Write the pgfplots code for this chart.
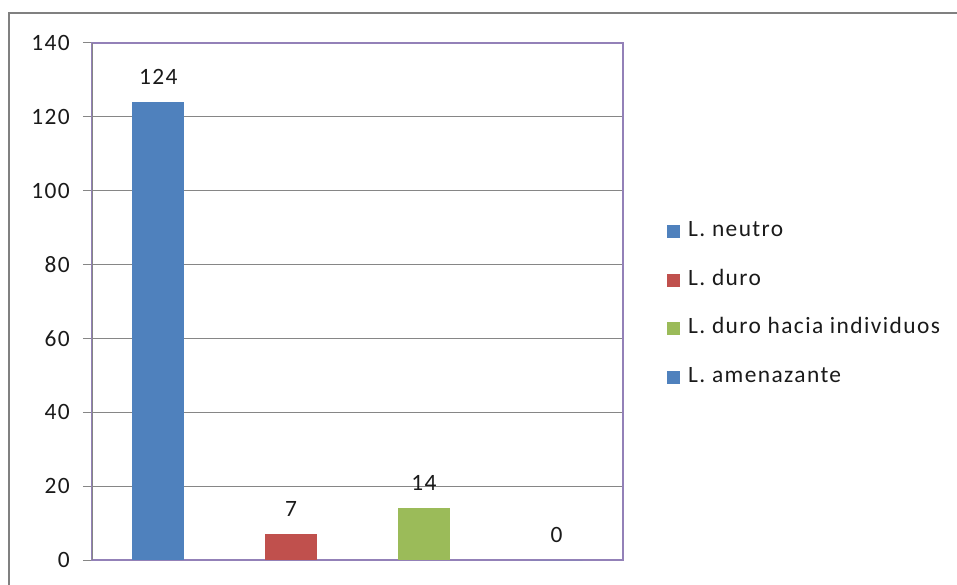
\documentclass[border=0pt]{standalone}
\usepackage{fontspec}
\setmainfont{Carlito}[LetterSpace=6]
\usepackage{pgfplots}
\pgfplotsset{compat=1.18}

\definecolor{xlblue}{HTML}{4F81BD}
\definecolor{xlred}{HTML}{C0504D}
\definecolor{xlgreen}{HTML}{9BBB59}
\definecolor{gridgray}{HTML}{868686}
\definecolor{framegray}{HTML}{808080}
\definecolor{plotpurple}{HTML}{9381B8}
\definecolor{labelblack}{HTML}{1A1A1A}

\begin{document}
\fontsize{23.5}{28}\selectfont
\begin{tikzpicture}
\useasboundingbox (0,0) rectangle (957bp,585bp);
% chart area frame (top and left edges)
\draw[framegray, line width=2bp] (9bp,0) -- (9bp,572bp) -- (957bp,572bp);
\begin{axis}[
  at={(92bp,25bp)}, anchor=south west,
  x=132.75bp, height=517bp, scale only axis,
  enlargelimits=false,
  xmin=-0.5, xmax=3.5, ymin=0, ymax=140,
  ytick={0,20,...,140}, xtick=\empty, ytick pos=left,
  ymajorgrids, grid style={gridgray, line width=1bp},
  axis line style={plotpurple, line width=1.2bp},
  ytick style={gridgray, line width=1bp},
  tick align=outside, major tick length=9bp,
  /pgf/number format/assume math mode=true,
  yticklabel style={font=\fontsize{23.5}{28}\selectfont, text=labelblack, anchor=east, inner sep=0pt, xshift=-13bp},
  ybar, bar width=52bp,
  nodes near coords,
  nodes near coords style={font=\fontsize{23.5}{28}\selectfont, text=labelblack, anchor=center, yshift=25bp},
  clip=false,
  legend style={at={(1,0.5)}, anchor=west, xshift=44bp, yshift=-3bp, draw=none, fill=none,
    inner sep=0pt, row sep=28.5bp,
    nodes={inner sep=0pt, text height=15bp, text depth=5bp, anchor=west, text=labelblack, font=\fontsize{23.5}{28}\selectfont}},
  legend cell align=left,
  /tikz/every odd column/.append style={column sep=8bp},
  legend image code/.code={\path[#1, draw=none] (0bp,-6.5bp) rectangle (13bp,6.5bp);},
]
\addplot[fill=xlblue, draw=none, bar shift=0pt] coordinates {(0,124)};
\addlegendentry{L. neutro}
\addplot[fill=xlred, draw=none, bar shift=0pt] coordinates {(1,7)};
\addlegendentry{L. duro}
\addplot[fill=xlgreen, draw=none, bar shift=0pt] coordinates {(2,14)};
\addlegendentry{L. duro hacia individuos}
\addplot[fill=xlblue, draw=none, bar shift=0pt] coordinates {(3,0)};
\addlegendentry{L. amenazante}
% value axis line
\draw[gridgray, line width=1bp] (rel axis cs:0,0) -- (rel axis cs:0,1);
\end{axis}
\end{tikzpicture}
\end{document}
